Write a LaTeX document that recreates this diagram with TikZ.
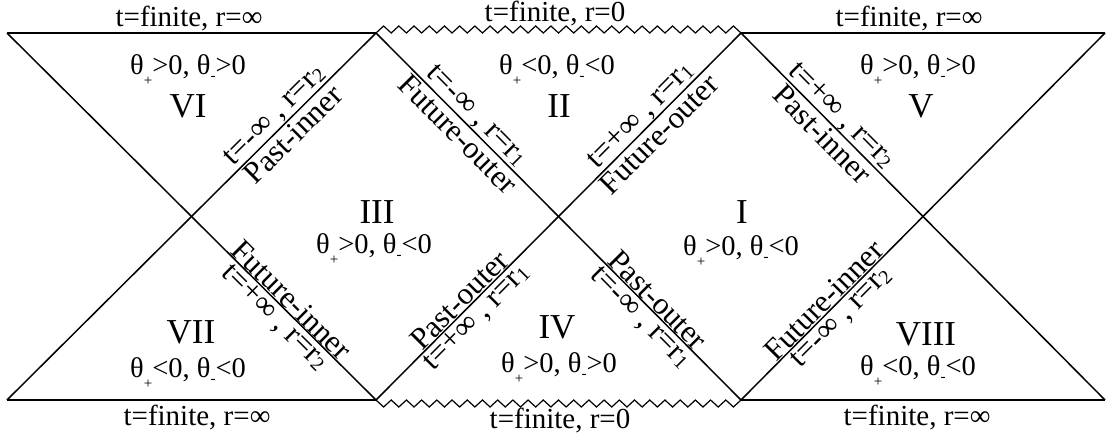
\documentclass[tikz,border=0pt]{standalone}
\usepackage{fontspec}
\setmainfont{Liberation Serif}
\usetikzlibrary{calc}
\newcommand\thp{θ\raisebox{-11pt}{\fontsize{15}{15}\selectfont +}}
\newcommand\thm{θ\raisebox{-6.5pt}{\fontsize{15}{15}\selectfont -}}
\newcommand\rsub[1]{\raisebox{-2pt}{\fontsize{20}{20}\selectfont #1}}
\begin{document}
\begin{tikzpicture}[x=1pt,y=-1pt,line width=1.5pt,
  hlabel/.style={font=\fontsize{29}{30}\selectfont, inner sep=0pt, anchor=base},
  thlabel/.style={font=\fontsize{28.5}{30}\selectfont, inner sep=0pt, anchor=base},
  numlabel/.style={font=\fontsize{35}{36}\selectfont, inner sep=0pt, anchor=base},
  diag/.style={font=\fontsize{31}{32}\selectfont, inner sep=0pt, sloped, midway},
  uplab/.style={diag, anchor=south, outer sep=1pt},
  dnlab/.style={diag, anchor=north, outer sep=3pt},
  zz/.style={line width=1.2pt, line join=miter}]
\useasboundingbox (0,0) rectangle (1107,439);
% vertices
\coordinate (TL) at (7,33);
\coordinate (T1) at (376,33);
\coordinate (T2) at (741,33);
\coordinate (TR) at (1105,33);
\coordinate (BL) at (7,400);
\coordinate (B1) at (376,400);
\coordinate (B2) at (741,400);
\coordinate (BR) at (1105,400);
\coordinate (C1) at (191.5,216.5);
\coordinate (C2) at (558.5,216.5);
\coordinate (C3) at (923,216.5);
% horizontal boundaries
\draw (TL) -- (T1);
\draw (T2) -- (TR);
\draw (BL) -- (B1);
\draw (B2) -- (BR);
% singularities
\draw[zz] (T1) \foreach \k in {1,...,48}{ -- ($(T1)!\k/48!(T2)+(0,{-7*mod(\k,2)})$) };
\draw[zz] (B1) \foreach \k in {1,...,48}{ -- ($(B1)!\k/48!(B2)+(0,{7*mod(\k,2)})$) };
% diagonals
\draw (TL) -- (B1);
\draw (BL) -- (T1);
\draw (T1) -- (B2);
\draw (B1) -- (T2);
\draw (T2) -- (BR);
\draw (B2) -- (TR);
% boundary labels
\node[hlabel] (l1) at (189,27) {t=finite, r=∞};
\node[hlabel] (l2) at (555,21) {t=finite, r=0};
\node[hlabel] (l3) at (909,27) {t=finite, r=∞};
\node[hlabel] (l4) at (197,425) {t=finite, r=∞};
\node[hlabel] (l5) at (560,428) {t=finite, r=0};
\node[hlabel] (l6) at (917,425) {t=finite, r=∞};
% region labels
\node[thlabel] (th6) at (188,74) {\thp>0, \thm>0};
\node[numlabel] (n6) at (188,117) {VI};
\node[thlabel] (th2) at (557,74) {\thp<0, \thm<0};
\node[numlabel] (n2) at (559,117) {II};
\node[thlabel] (th5) at (918,74) {\thp>0, \thm>0};
\node[numlabel] (n5) at (921,117) {V};
\node[numlabel] (n3) at (377,223) {III};
\node[thlabel] (th3) at (374,253) {\thp>0, \thm<0};
\node[numlabel] (n1) at (742,223) {I};
\node[thlabel] (th1) at (741,255) {\thp>0, \thm<0};
\node[numlabel] (n7) at (191,343) {VII};
\node[thlabel] (th7) at (188,377) {\thp<0, \thm<0};
\node[numlabel] (n4) at (557,338) {IV};
\node[thlabel] (th4) at (559,372) {\thp>0, \thm>0};
\node[numlabel] (n8) at (926,345) {VIII};
\node[thlabel] (th8) at (918,375) {\thp<0, \thm<0};
% horizon labels
\path (C1) -- (T1) node[uplab] {t=-∞ , r=r\rsub2} node[dnlab] {Past-inner};
\path (T1) -- (C2) node[uplab] {t=-∞ , r=r\rsub1} node[dnlab] {Future-outer};
\path (C2) -- (T2) node[uplab] {t=+∞ , r=r\rsub1} node[dnlab] {Future-outer};
\path (T2) -- (C3) node[uplab] {t=+∞ , r=r\rsub2} node[dnlab] {Past-inner};
\path (C1) -- (B1) node[uplab] {Future-inner} node[dnlab] {t=+∞ , r=r\rsub2};
\path (B1) -- (C2) node[uplab] {Past-outer} node[dnlab] {t=+∞ , r=r\rsub1};
\path (C2) -- (B2) node[uplab] {Past-outer} node[dnlab] {t=-∞ , r=r\rsub1};
\path (B2) -- (C3) node[uplab] {Future-inner} node[dnlab] {t=-∞ , r=r\rsub2};
\end{tikzpicture}
\end{document}
